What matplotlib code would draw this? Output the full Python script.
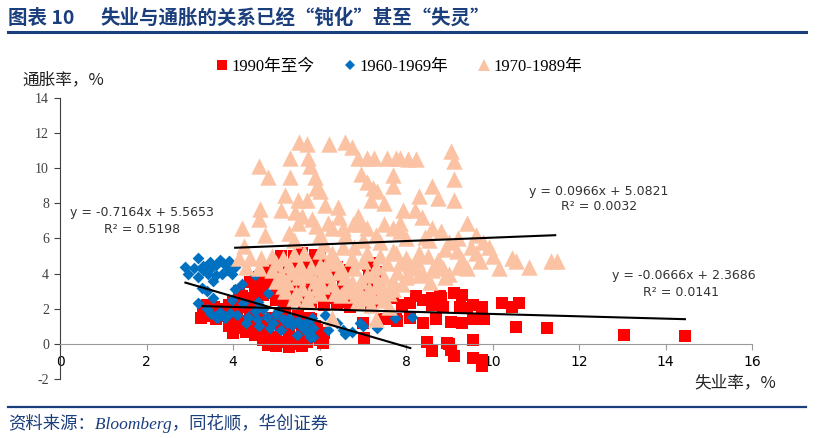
import matplotlib
matplotlib.use("Agg")
import matplotlib.pyplot as plt
from matplotlib.lines import Line2D
import numpy as np

# ---------------- data ----------------
# 1970-1989 (unemployment %, inflation %)
tri_x = [5.52, 5.70, 6.21, 6.60, 6.75, 5.31, 5.73, 4.60, 4.80, 5.31, 5.77, 5.89, 5.93, 5.20, 6.00,
         5.50, 5.70, 6.12, 6.42, 4.62, 4.60, 5.43, 5.60, 5.82, 5.93, 5.50, 4.20, 4.73, 6.20, 6.30,
         6.54, 6.77, 6.93, 7.09, 7.50, 7.70, 6.88, 7.10, 7.27, 7.57, 7.78, 6.97, 7.10, 7.23, 7.32,
         7.20, 7.50, 7.70, 7.70, 9.05, 9.12, 9.12, 9.12, 8.61, 8.73, 8.31, 8.24, 8.04, 7.85, 7.92,
         8.20, 8.36, 7.85, 7.85, 9.42, 9.63, 8.82, 8.54, 9.77, 9.93, 9.17, 8.31, 10.44, 10.55, 10.85,
         11.36, 11.48, 10.16, 9.42, 8.85, 8.13, 7.78, 9.63, 5.10, 5.30, 6.60, 7.30, 8.00, 8.60, 9.20,
         6.00, 6.90, 4.25, 5.40, 6.45, 7.00, 8.45, 9.00, 6.10, 7.40,
         4.15, 4.40, 4.65, 4.90, 5.15, 5.40, 5.65, 6.00, 6.30, 6.55, 6.80, 7.10, 7.40, 7.70, 8.00,
         8.50, 8.90, 9.30, 9.70, 10.00, 8.25, 8.75, 9.50,
         4.30, 4.60, 4.90, 5.00, 5.20, 5.30, 5.50, 5.60, 5.40, 5.80, 5.90, 6.00, 6.20, 6.30, 6.40,
         6.50, 6.60, 6.80, 6.90, 7.00, 7.10, 7.30, 7.30, 7.50, 7.60, 7.80, 7.90, 8.10, 8.30, 8.40,
         8.70, 9.00, 9.20, 6.86, 7.20, 7.50, 7.60, 6.30, 7.30, 5.70,
         5.10, 5.25, 5.65, 5.95, 6.10, 6.45, 6.70, 6.95, 7.20, 7.45, 7.70, 8.05, 8.55, 8.90, 6.05,
         6.75, 7.15, 6.40,
         5.00, 5.35, 5.55, 5.75, 6.00, 6.25, 6.50, 6.75, 7.00, 7.25, 7.55, 7.85, 8.20, 8.60, 5.15,
         5.45, 5.75, 6.05, 6.35, 6.60, 6.85, 7.10, 7.40, 7.70, 8.00]
tri_y = [11.5, 11.4, 11.4, 11.5, 11.2, 10.6, 10.6, 10.1, 9.5, 9.5, 10.1, 9.5, 8.9, 8.5, 8.7,
         8.2, 8.2, 7.9, 7.8, 7.7, 7.1, 7.5, 7.3, 7.1, 6.7, 6.9, 6.6, 6.2, 6.9, 6.6,
         6.6, 6.8, 6.8, 6.6, 6.8, 6.6, 10.6, 10.6, 10.6, 10.6, 10.6, 9.7, 9.2, 8.9, 8.7,
         8.2, 8.0, 9.6, 9.0, 11.0, 10.4, 9.4, 8.2, 9.0, 8.3, 8.4, 10.5, 10.5, 10.6, 7.6,
         7.6, 7.2, 6.9, 6.4, 6.9, 6.2, 6.4, 5.9, 5.8, 5.5, 5.3, 5.2, 4.9, 4.7, 4.4,
         4.7, 4.7, 4.3, 4.3, 4.3, 4.3, 5.2, 5.2, 7.6, 6.3, 6.2, 6.2, 6.0, 6.6, 6.0,
         6.2, 7.3, 5.6, 5.9, 7.2, 5.9, 6.1, 5.8, 5.7, 5.8,
         4.9, 4.9, 4.9, 5.0, 4.9, 5.1, 5.2, 5.3, 5.2, 5.5, 5.5, 5.2, 5.0, 5.3, 4.9,
         5.0, 5.4, 4.8, 4.7, 5.0, 4.7, 4.8, 5.5,
         4.4, 4.3, 4.2, 3.6, 3.0, 4.5, 3.8, 3.2, 2.6, 4.4, 3.6, 2.9, 4.0, 3.4, 4.6,
         2.8, 3.8, 4.3, 3.2, 2.6, 3.9, 4.4, 3.3, 3.8, 2.9, 4.1, 3.4, 4.5, 3.9, 4.0,
         4.5, 4.0, 4.4, 2.4, 2.2, 2.5, 2.1, 1.5, 1.4, 2.5,
         4.0, 3.5, 4.0, 3.2, 4.3, 4.1, 3.0, 3.6, 2.8, 3.3, 3.6, 3.9, 3.5, 3.8, 3.9,
         3.5, 3.1, 2.9,
         4.6, 4.1, 4.5, 3.9, 4.5, 4.8, 4.3, 4.9, 4.7, 4.0, 4.6, 4.6, 4.4, 4.2, 3.3,
         2.9, 2.8, 3.3, 2.9, 3.1, 2.8, 2.9, 2.7, 3.1, 3.8]

# 1960-1969
dia_x = [2.89, 2.96, 3.19, 3.10, 3.30, 3.46, 3.60, 3.70, 3.76, 3.90, 4.05, 3.42, 3.74, 3.54, 3.28,
         3.39, 3.97, 4.20, 4.04, 4.50, 3.20, 3.60, 3.85, 3.30, 3.50,
         3.19, 3.54, 3.97, 4.23, 4.57, 3.62, 3.81, 4.09, 4.34, 4.55, 4.78, 4.92, 5.15, 5.36, 5.59,
         5.70, 5.84, 5.47, 4.85, 3.93, 3.70, 5.70, 5.82, 6.12, 5.84, 6.19, 6.54, 6.74, 6.93, 7.00,
         7.32, 7.74, 8.13, 5.77, 4.50, 4.70, 5.00, 5.30, 5.50, 4.30, 4.60, 5.10, 6.40, 6.60, 3.40,
         3.50, 4.80, 5.05, 5.25]
dia_y = [4.4, 4.0, 4.9, 4.3, 4.45, 4.65, 4.5, 4.8, 4.6, 4.7, 4.4, 4.0, 4.0, 3.6, 3.2,
         3.0, 4.0, 3.4, 3.1, 3.9, 3.8, 3.9, 4.2, 4.2, 4.3,
         2.3, 2.6, 2.5, 2.3, 2.4, 1.5, 1.5, 1.65, 1.55, 1.4, 1.55, 1.2, 1.4, 1.1, 0.97,
         0.7, 0.4, 0.5, 0.9, 1.75, 1.8, 1.25, 1.5, 1.65, 0.9, 0.8, 0.8, 0.7, 1.2, 1.0,
         0.9, 1.5, 1.55, 0.4, 1.9, 2.0, 1.7, 1.5, 1.3, 1.2, 1.0, 0.8, 1.2, 0.55, 2.0,
         1.7, 2.9, 1.9, 1.2]

# 1990 to now
sq_x = [14.46, 13.05, 11.25, 10.55, 10.23, 10.62, 10.44, 9.12, 9.30, 9.24, 9.54, 9.75, 9.40, 9.05, 9.30,
        9.54, 9.80, 8.82, 8.94, 9.05, 9.12, 9.54, 9.54, 9.75, 9.75, 8.48, 8.60, 9.00,
        8.60, 8.78, 8.24, 7.90, 7.76, 7.04, 6.08, 3.27, 3.30, 5.96, 7.16, 8.10, 8.40, 8.60, 8.85, 7.70,
        7.50, 7.80, 8.10, 8.40, 8.70, 7.00, 7.00, 7.10, 7.15, 7.20, 5.80, 6.10, 6.40, 6.70, 6.90,
        7.20, 7.40, 5.80, 5.90, 6.10, 6.00, 5.85,
        3.50, 3.70, 3.90, 4.10, 4.30, 3.60, 3.90, 4.20, 4.40, 4.50, 3.40, 4.00,
        3.35, 3.55, 3.75, 3.85, 4.05, 4.15,
        4.40, 4.50, 4.60, 4.70, 4.80, 4.90, 5.00, 5.10, 5.20, 5.30, 5.40, 5.50, 5.60, 5.70, 5.80,
        4.60, 4.90, 5.20, 5.50, 4.00, 4.20, 3.90,
        4.45, 4.65, 4.75, 4.95, 5.05, 5.25, 5.35, 5.45, 5.65, 5.75, 5.95, 5.60, 5.30, 5.00, 4.80,
        4.30, 4.10,
        4.40, 4.50, 4.40, 4.60, 4.70, 4.80, 5.00, 5.10, 5.20, 5.30, 5.50, 5.60, 5.70, 5.90, 6.00,
        6.20, 6.30, 6.50, 6.60, 4.20, 4.15,
        4.35, 4.55, 4.65, 4.75, 4.90, 4.95, 5.05, 5.15, 5.25, 5.35, 5.40, 5.45, 5.65, 5.75, 5.85,
        5.95, 6.10, 6.15, 6.35, 6.45, 6.55, 6.75, 6.85, 5.40, 5.70,
        4.80, 5.00, 5.10, 5.30, 5.50, 5.59, 5.80, 5.89, 6.00, 5.20, 7.11, 7.30, 4.57, 6.40, 6.70]
sq_y = [0.45, 0.50, 0.90, 0.97, 2.30, 2.30, 2.10, 2.90, 2.80, 2.10, 2.20, 2.10, 2.05, 1.25, 1.20,
        1.40, 1.40, 2.60, 0.05, -0.35, -0.70, 0.20, -0.80, -0.90, -1.25, 0.10, -0.40, 0.00,
        2.60, 2.75, 2.75, 2.20, 1.40, 0.35, 0.06, 1.50, 1.90, 4.95, 4.50, 2.30, 2.50, 2.20, 2.10, 2.60,
        1.40, 1.30, 1.50, 1.20, 1.40, 1.20, 2.90, 3.50, 4.00, 4.60, 2.40, 2.20, 2.30, 2.10, 2.40,
        2.20, 2.50, 1.40, 1.00, 0.60, 0.20, 0.50,
        1.80, 2.00, 2.20, 1.90, 2.10, 1.40, 1.50, 1.30, 1.60, 2.30, 2.20, 2.40,
        1.60, 2.10, 1.60, 2.00, 1.60, 2.20,
        0.90, 0.50, 1.20, 0.20, 0.70, 0.00, 0.40, 1.00, 0.10, 0.60, 0.00, 0.30, 1.00, 0.10, 0.70,
        1.70, 1.50, 1.80, 1.60, 0.60, 0.90, 1.00,
        1.20, 0.60, 1.00, 0.30, 1.30, 0.90, 0.30, 1.20, 0.50, 1.50, 0.80, -0.10, -0.15, -0.10, -0.05,
        0.70, 1.10,
        2.60, 3.00, 3.50, 3.80, 2.80, 3.30, 2.50, 3.90, 2.20, 3.40, 2.60, 4.10, 3.00, 3.70, 2.70,
        3.20, 2.60, 3.00, 2.60, 2.70, 3.00,
        2.20, 2.50, 3.20, 3.70, 2.90, 4.00, 3.20, 2.60, 3.70, 2.90, 4.20, 3.30, 2.30, 3.50, 2.90,
        4.20, 2.90, 3.60, 3.90, 2.40, 3.40, 2.70, 3.10, 5.00, 4.80,
        4.30, 4.60, 5.00, 4.40, 4.80, 5.20, 4.50, 5.05, 4.90, 4.00, 4.50, 4.10, 3.60, 4.40, 4.20]

# trend lines: slope, intercept, x-range
fit_names = ["1960-1969", "1970-1989", "1990-"]
fit_slope = [-0.7164, 0.0966, -0.0666]
fit_inter = [5.5653, 5.0821, 2.3686]
fit_xmin = [2.9, 4.05, 3.3]
fit_xmax = [8.1, 11.45, 14.45]

legend_labels = ["1990年至今", "1960-1969年", "1970-1989年"]
x_ticks = [0, 2, 4, 6, 8, 10, 12, 14, 16]
y_ticks = [-2, 0, 2, 4, 6, 8, 10, 12, 14]

# ---------------- figure ----------------
W, H = 818, 438
fig = plt.figure(figsize=(W / 100, H / 100), dpi=100)
NAVY = "#1B3E7C"
CJK = ["Noto Sans CJK SC", "DejaVu Sans"]
SERIF = ["Liberation Serif", "Noto Sans CJK SC"]

def fx(px):
    return px / W

def fy(py):
    return 1 - py / H

# title and rules
fig.text(fx(8), fy(18), "图表 10", family=CJK,
         fontsize=14, fontweight="bold", color=NAVY, ha="left", va="center")
fig.text(fx(100), fy(18), "失业与通胀的关系已经“钝化”甚至“失灵”", family=CJK,
         fontsize=14, fontweight="bold", color=NAVY, ha="left", va="center")
fig.add_artist(Line2D([fx(8), fx(806)], [fy(32), fy(32)], color=NAVY, lw=2.2))
fig.add_artist(Line2D([fx(8), fx(806)], [fy(407), fy(407)], color=NAVY, lw=1.6))
fig.text(fx(8), fy(423), "资料来源：Bloomberg，同花顺，华创证券", family=SERIF, style="italic",
         fontsize=12.5, color=NAVY, ha="left", va="center")

ax = fig.add_axes([fx(60), 1 - 379 / H, 692 / W, 281 / H])
ax.scatter(sq_x, sq_y, marker="s", s=72, color="#FF0000", linewidths=0, zorder=2)
ax.scatter(dia_x, dia_y, marker="D", s=36, color="#0070C0", linewidths=0, zorder=3)
ax.scatter(tri_x, tri_y, marker="^", s=140, color="#FBC3A3", linewidths=0, zorder=4)

for k in range(3):
    xs = np.array([fit_xmin[k], fit_xmax[k]])
    ax.plot(xs, fit_slope[k] * xs + fit_inter[k], color="black", lw=1.5, zorder=6)

ax.set_xlim(0, 16)
ax.set_ylim(-2, 14)
ax.set_xticks(x_ticks)
ax.set_yticks(y_ticks)
ax.set_xticklabels([str(t) for t in x_ticks], family="Liberation Serif", fontsize=10, color="#404040")
ax.set_yticklabels([str(t) for t in y_ticks], family="Liberation Serif", fontsize=10, color="#404040")
for s in ["top", "right"]:
    ax.spines[s].set_visible(False)
ax.spines["bottom"].set_position(("data", 0))
ax.spines["bottom"].set_color("#9A9A9A")
ax.spines["left"].set_color("#404040")
ax.tick_params(axis="x", direction="out", length=4, color="#9A9A9A", pad=4)
ax.tick_params(axis="y", direction="out", length=4, color="#404040", pad=4)

# equation labels
eq_kw = dict(family="DejaVu Sans", fontsize=9, color="#333333", ha="center", va="center")
fig.text(fx(142), fy(213), "y = -0.7164x + 5.5653", **eq_kw)
fig.text(fx(142), fy(229), "R² = 0.5198", **eq_kw)
fig.text(fx(599), fy(191), "y = 0.0966x + 5.0821", **eq_kw)
fig.text(fx(599), fy(207), "R² = 0.0032", **eq_kw)
fig.text(fx(684), fy(276), "y = -0.0666x + 2.3686", **eq_kw)
fig.text(fx(681), fy(292), "R² = 0.0141", **eq_kw)

# axis titles
fig.text(fx(22), fy(80), "通胀率，%", family=CJK, fontsize=12, color="#222222", ha="left", va="center")
fig.text(fx(694), fy(383), "失业率，%", family=CJK, fontsize=12, color="#222222", ha="left", va="center")

# legend
handles = [
    Line2D([], [], marker="s", ls="none", markersize=7.5, color="#FF0000", mew=0),
    Line2D([], [], marker="D", ls="none", markersize=5, color="#0070C0", mew=0),
    Line2D([], [], marker="^", ls="none", markersize=9, color="#FBC3A3", mew=0),
]
fig.legend(handles, legend_labels, loc="center", bbox_to_anchor=(fx(398), fy(67)), ncol=3,
           frameon=False, prop={"family": SERIF, "size": 12}, handletextpad=0.1,
           columnspacing=1.6, handlelength=1.0, borderpad=0)

fig.savefig("out.png", dpi=100)
